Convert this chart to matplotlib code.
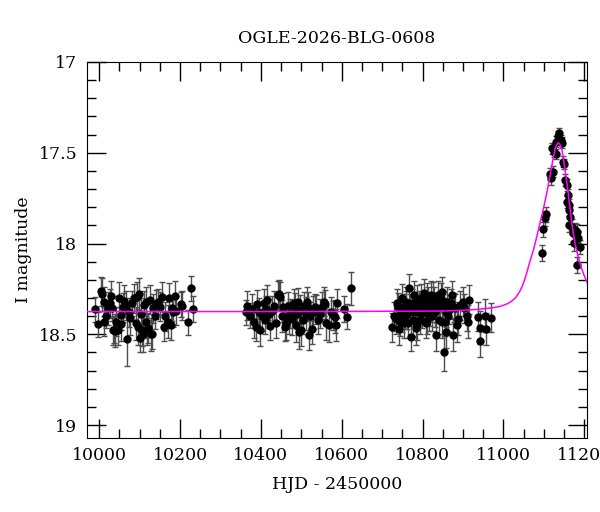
# OGLE light curve: photometry with error bars plus point-lens model line

import numpy as np
from matplotlib import pyplot as plt
from matplotlib.ticker import MultipleLocator, FormatStrFormatter

plt.rcParams['font.family'] = ['DejaVu Serif']

title = "OGLE-2026-BLG-0608"
xlabel = "HJD - 2450000"
ylabel = "I magnitude"

# season 1
t1 = [9989, 9998, 10004, 10008, 10011, 10013, 10017, 10021, 10026, 10029, 10033, 10034,
      10037, 10040, 10041, 10046, 10048, 10054, 10055, 10058, 10062, 10066, 10070, 10073,
      10077, 10082, 10087, 10090, 10093, 10096, 10099, 10101, 10103, 10107, 10108, 10112,
      10115, 10117, 10119, 10121, 10125, 10129, 10131, 10133, 10137, 10141, 10145, 10150,
      10155, 10160, 10164, 10170, 10174, 10177, 10179, 10183, 10187, 10191, 10203, 10205,
      10220, 10226, 10232]
m1 = [18.363, 18.445, 18.262, 18.280, 18.320, 18.431, 18.398, 18.357, 18.330, 18.288, 18.357, 18.477,
      18.477, 18.480, 18.431, 18.477, 18.300, 18.445, 18.394, 18.350, 18.317, 18.339, 18.528, 18.380,
      18.412, 18.330, 18.302, 18.440, 18.293, 18.460, 18.280, 18.520, 18.390, 18.477, 18.500, 18.339,
      18.431, 18.320, 18.471, 18.467, 18.311, 18.500, 18.499, 18.357, 18.400, 18.335, 18.320, 18.348,
      18.293, 18.458, 18.400, 18.431, 18.300, 18.449, 18.357, 18.380, 18.288, 18.370, 18.335, 18.343,
      18.434, 18.247, 18.361]
e1 = [0.07, 0.07, 0.08, 0.09, 0.08, 0.08, 0.07, 0.09, 0.08, 0.08, 0.07, 0.08,
      0.07, 0.09, 0.08, 0.08, 0.09, 0.09, 0.08, 0.08, 0.09, 0.08, 0.147, 0.08,
      0.09, 0.07, 0.08, 0.09, 0.08, 0.10, 0.09, 0.08, 0.09, 0.09, 0.10, 0.08,
      0.09, 0.08, 0.09, 0.08, 0.08, 0.09, 0.08, 0.08, 0.07, 0.08, 0.07, 0.08,
      0.08, 0.08, 0.08, 0.09, 0.08, 0.08, 0.07, 0.08, 0.08, 0.08, 0.07, 0.08,
      0.07, 0.07, 0.07]

# season 2
t2 = [10362, 10366, 10372, 10379, 10382, 10387, 10391, 10395, 10397, 10402, 10407, 10410,
      10412, 10416, 10420, 10423, 10428, 10432, 10437, 10442, 10446, 10448, 10451, 10455,
      10459, 10463, 10467, 10470, 10473, 10478, 10481, 10484, 10488, 10490, 10492, 10494,
      10496, 10500, 10503, 10506, 10511, 10513, 10516, 10518, 10521, 10526, 10530, 10533,
      10537, 10541, 10546, 10551, 10556, 10558, 10562, 10568, 10573, 10578, 10583, 10585,
      10588, 10606, 10612, 10624]
m2 = [18.380, 18.342, 18.398, 18.360, 18.431, 18.458, 18.335, 18.380, 18.477, 18.400, 18.330, 18.420,
      18.360, 18.310, 18.387, 18.452, 18.370, 18.342, 18.440, 18.284, 18.280, 18.293, 18.400, 18.350,
      18.458, 18.440, 18.346, 18.410, 18.387, 18.414, 18.330, 18.360, 18.450, 18.390, 18.324, 18.490,
      18.366, 18.477, 18.420, 18.346, 18.387, 18.320, 18.348, 18.504, 18.400, 18.471, 18.380, 18.348,
      18.366, 18.420, 18.387, 18.348, 18.320, 18.335, 18.440, 18.450, 18.376, 18.394, 18.403, 18.449,
      18.330, 18.360, 18.403, 18.247]
e2 = [0.07, 0.08, 0.07, 0.08, 0.09, 0.08, 0.08, 0.08, 0.09, 0.08, 0.08, 0.08,
      0.07, 0.08, 0.08, 0.08, 0.08, 0.08, 0.08, 0.08, 0.08, 0.08, 0.09, 0.08,
      0.08, 0.09, 0.08, 0.09, 0.08, 0.09, 0.08, 0.09, 0.09, 0.08, 0.08, 0.09,
      0.08, 0.09, 0.08, 0.08, 0.09, 0.08, 0.08, 0.08, 0.08, 0.08, 0.09, 0.07,
      0.08, 0.08, 0.08, 0.08, 0.08, 0.08, 0.09, 0.09, 0.08, 0.08, 0.09, 0.09,
      0.08, 0.07, 0.07, 0.09]

# season 3
t3 = [10725, 10730, 10735, 10737, 10739, 10742, 10744, 10746, 10748, 10750, 10752, 10754,
      10756, 10758, 10760, 10762, 10764, 10767, 10769, 10771, 10773, 10775, 10777, 10779,
      10781, 10783, 10785, 10787, 10789, 10791, 10793, 10796, 10799, 10801, 10804, 10806,
      10808, 10810, 10812, 10814, 10816, 10818, 10820, 10822, 10824, 10826, 10828, 10830,
      10833, 10835, 10838, 10840, 10842, 10845, 10847, 10848, 10851, 10853, 10855, 10857,
      10859, 10861, 10863, 10866, 10869, 10872, 10874, 10877, 10880, 10884, 10888, 10892,
      10899, 10903, 10909, 10913, 10915, 10937, 10942, 10943, 10954, 10956, 10968]
m3 = [18.462, 18.400, 18.416, 18.330, 18.350, 18.470, 18.431, 18.380, 18.302, 18.410, 18.357, 18.440,
      18.400, 18.340, 18.320, 18.390, 18.440, 18.247, 18.360, 18.513, 18.330, 18.376, 18.420, 18.284,
      18.350, 18.467, 18.450, 18.310, 18.380, 18.340, 18.420, 18.302, 18.385, 18.340, 18.274, 18.348,
      18.440, 18.419, 18.300, 18.320, 18.400, 18.376, 18.284, 18.350, 18.400, 18.290, 18.320, 18.380,
      18.504, 18.357, 18.284, 18.420, 18.340, 18.300, 18.431, 18.265, 18.340, 18.600, 18.431, 18.486,
      18.380, 18.320, 18.400, 18.366, 18.330, 18.284, 18.504, 18.350, 18.357, 18.450, 18.414, 18.340,
      18.320, 18.357, 18.400, 18.431, 18.310, 18.403, 18.464, 18.537, 18.398, 18.471, 18.410]
e3 = [0.08, 0.08, 0.08, 0.08, 0.08, 0.09, 0.08, 0.07, 0.08, 0.08, 0.08, 0.08,
      0.07, 0.08, 0.08, 0.08, 0.08, 0.08, 0.08, 0.08, 0.08, 0.08, 0.09, 0.08,
      0.08, 0.09, 0.08, 0.08, 0.08, 0.08, 0.08, 0.08, 0.08, 0.08, 0.08, 0.08,
      0.08, 0.08, 0.08, 0.08, 0.08, 0.08, 0.08, 0.08, 0.08, 0.08, 0.08, 0.08,
      0.09, 0.08, 0.08, 0.08, 0.08, 0.08, 0.09, 0.08, 0.08, 0.10, 0.08, 0.09,
      0.08, 0.08, 0.08, 0.08, 0.08, 0.08, 0.09, 0.08, 0.08, 0.09, 0.09, 0.08,
      0.08, 0.08, 0.08, 0.09, 0.08, 0.08, 0.09, 0.09, 0.09, 0.09, 0.08]

# the event
t4 = [11094, 11098, 11102, 11106, 11115, 11117, 11120, 11123, 11125, 11129, 11131, 11135,
      11138, 11141, 11144, 11148, 11150, 11152, 11156, 11156, 11159, 11161, 11161, 11163,
      11165, 11170, 11172, 11174, 11178, 11180, 11182, 11183, 11185, 11188]
m4 = [18.051, 17.922, 17.861, 17.839, 17.617, 17.641, 17.476, 17.604, 17.494, 17.507, 17.439, 17.408,
      17.393, 17.430, 17.445, 17.549, 17.562, 17.650, 17.678, 17.770, 17.733, 17.788, 17.898, 17.815,
      17.852, 17.907, 17.944, 17.999, 17.926, 17.953, 18.118, 17.935, 17.971, 18.018]
e4 = [0.045, 0.04, 0.04, 0.04, 0.035, 0.035, 0.03, 0.03, 0.03, 0.03, 0.03, 0.03,
      0.03, 0.03, 0.03, 0.03, 0.03, 0.035, 0.035, 0.035, 0.035, 0.035, 0.04, 0.035,
      0.04, 0.04, 0.04, 0.04, 0.04, 0.04, 0.045, 0.04, 0.04, 0.04]

# model curve
model_t = [9960, 10500, 10850, 10900, 10940, 10970, 10990, 11000, 11010, 11020, 11030, 11040,
           11047, 11053, 11059, 11064, 11069, 11074, 11082, 11090, 11099, 11107, 11113, 11119,
           11123, 11127, 11131, 11135, 11139, 11144, 11148, 11152, 11157, 11161, 11165, 11169,
           11173, 11177, 11183, 11189, 11198, 11207, 11215]
model_m = [18.375, 18.375, 18.372, 18.368, 18.362, 18.355, 18.347, 18.340, 18.331, 18.318, 18.298, 18.265,
           18.232, 18.195, 18.150, 18.110, 18.072, 18.036, 17.965, 17.889, 17.805, 17.723, 17.650, 17.577,
           17.530, 17.485, 17.456, 17.446, 17.452, 17.480, 17.530, 17.595, 17.670, 17.742, 17.815, 17.889,
           17.948, 17.999, 18.058, 18.109, 18.168, 18.216, 18.26]

t = np.concatenate([t1, t2, t3, t4])
m = np.concatenate([m1, m2, m3, m4])
e = np.concatenate([e1, e2, e3, e4])

fig = plt.figure(figsize=(6, 5.12), dpi=100)
ax = fig.add_axes([0.145, 0.145, 0.833, 0.734])

ax.errorbar(t, m, yerr=e, fmt='o', color='black', ms=5, ecolor='0.3',
            elinewidth=1, capsize=2.5, capthick=1, zorder=2)
ax.plot(model_t, model_m, color='#ff00ff', lw=1.1, zorder=3)

ax.set_xlim(9970, 11206)
ax.set_ylim(19.07, 17.0)
ax.xaxis.set_major_locator(MultipleLocator(200))
ax.xaxis.set_minor_locator(MultipleLocator(50))
ax.yaxis.set_major_locator(MultipleLocator(0.5))
ax.yaxis.set_minor_locator(MultipleLocator(0.1))
ax.yaxis.set_major_formatter(FormatStrFormatter('%g'))
ax.tick_params(which='both', direction='in', top=True, right=True, labelsize=12.5, width=1)
ax.tick_params(which='major', length=13.5, pad=7)
ax.tick_params(which='minor', length=6.8)

ax.set_title(title, fontsize=12.5, pad=14)
ax.set_xlabel(xlabel, fontsize=12.5, labelpad=8)
ax.set_ylabel(ylabel, fontsize=12.5, labelpad=5)

fig.savefig('out.png', dpi=100)
